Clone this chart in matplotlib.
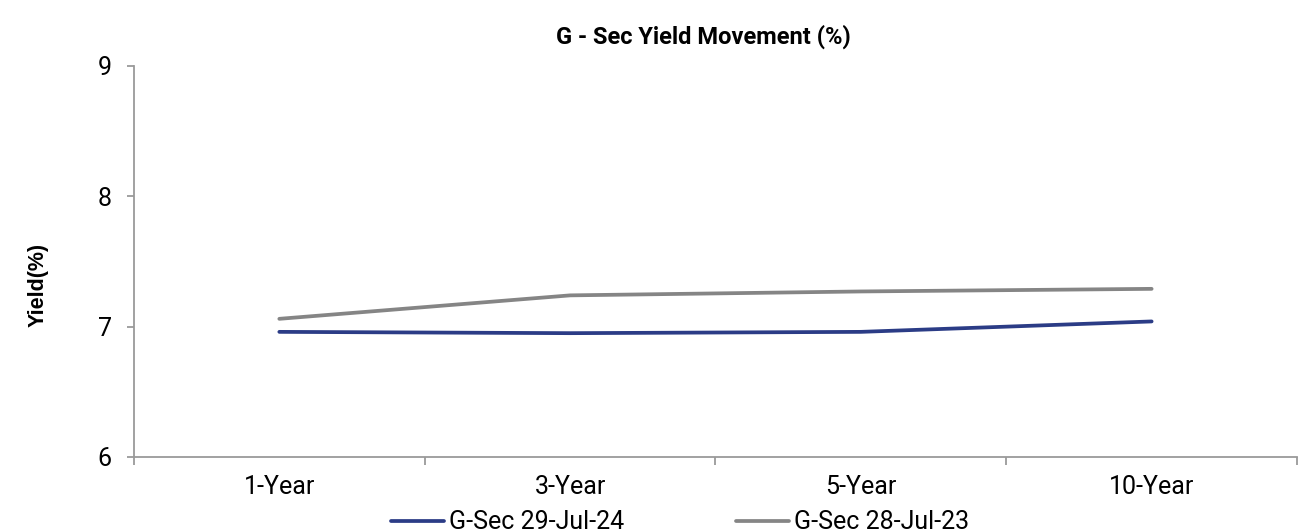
import matplotlib
matplotlib.use('Agg')
from matplotlib import pyplot as pl
import numpy as np

pl.rcParams['font.family'] = ['Roboto', 'DejaVu Sans']

# Tenors and yields (%)
tenors = ['1-Year', '3-Year', '5-Year', '10-Year']
yield_2024 = [6.96, 6.95, 6.96, 7.04]
yield_2023 = [7.06, 7.24, 7.27, 7.29]
labels = ['G-Sec 29-Jul-24', 'G-Sec 28-Jul-23']

fig = pl.figure(figsize=(13.08, 5.32), dpi=100)
ax = fig.add_axes([0.1024, 0.141, 0.8892, 0.735])

x = np.arange(len(tenors))
ax.plot(x, yield_2024, color='#2B3C86', linewidth=2.7, label=labels[0],
        solid_capstyle='round')
ax.plot(x, yield_2023, color='#858585', linewidth=2.7, label=labels[1],
        solid_capstyle='round')

ax.set_xlim(-0.5, len(tenors) - 0.5)
ax.set_ylim(6, 9)
ax.set_yticks([6, 7, 8, 9])
ax.set_xticks(x)
ax.set_xticklabels(tenors)
ax.set_xticks(np.arange(len(tenors) + 1) - 0.5, minor=True)

for side in ['top', 'right']:
    ax.spines[side].set_visible(False)
for side in ['left', 'bottom']:
    ax.spines[side].set_color('#9a9a9a')
    ax.spines[side].set_linewidth(1.3)

ax.tick_params(axis='x', which='major', length=0, pad=13, labelsize=18)
ax.tick_params(axis='x', which='minor', length=6, width=1.3, color='#9a9a9a')
ax.tick_params(axis='y', length=5, width=1.3, color='#9a9a9a', pad=11,
               labelsize=18)

fig.text(0.538, 0.930, 'G - Sec Yield Movement (%)', fontsize=17,
         fontweight='bold', ha='center', va='center')
fig.text(0.029, 0.464, 'Yield(%)', rotation=90, fontsize=15.5,
         fontweight='bold', ha='center', va='center',
         family=['Liberation Sans', 'DejaVu Sans'])

fig.legend(loc='center', bbox_to_anchor=(0.52, 0.018), ncol=2, frameon=False,
           fontsize=18, handlelength=2.1, handletextpad=0.2,
           columnspacing=4.5)

fig.savefig('out.png', dpi=100)
